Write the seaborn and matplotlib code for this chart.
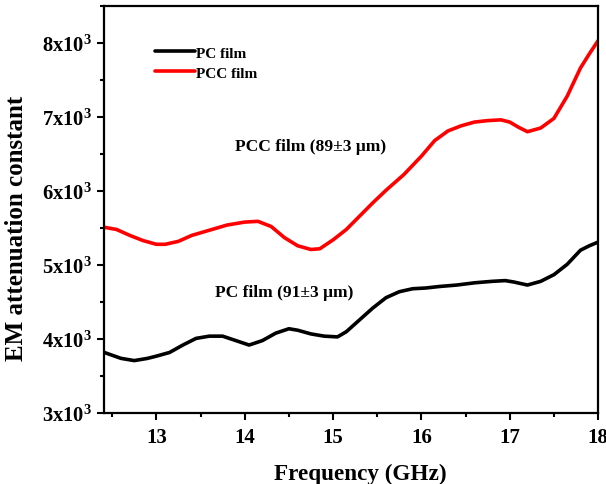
import pandas as pd
import matplotlib
matplotlib.use("Agg")
from matplotlib import pyplot as plt
from matplotlib.ticker import MultipleLocator, FuncFormatter
import seaborn as sns

# PC film (black)
pc_freq = [12.41, 12.6, 12.75, 12.9, 13.0, 13.15, 13.3, 13.45, 13.6, 13.75, 13.9,
           14.05, 14.2, 14.35, 14.5, 14.6, 14.75, 14.9, 15.05, 15.15, 15.3, 15.45,
           15.6, 15.75, 15.9, 16.05, 16.2, 16.4, 16.6, 16.8, 16.95, 17.05, 17.2,
           17.35, 17.5, 17.65, 17.8, 17.9, 18.0]
pc_vals = [3820, 3740, 3710, 3740, 3770, 3820, 3920, 4010, 4040, 4040, 3980,
           3920, 3980, 4080, 4140, 4120, 4070, 4040, 4030, 4100, 4260, 4420,
           4560, 4640, 4680, 4690, 4710, 4730, 4760, 4780, 4790, 4770, 4730,
           4780, 4870, 5010, 5200, 5260, 5310]

# PCC film (red)
pcc_freq = [12.41, 12.55, 12.7, 12.85, 13.0, 13.1, 13.25, 13.4, 13.6, 13.8, 14.0,
            14.15, 14.3, 14.45, 14.6, 14.75, 14.85, 15.0, 15.15, 15.3, 15.45, 15.6,
            15.8, 16.0, 16.15, 16.3, 16.45, 16.6, 16.75, 16.9, 17.0, 17.1, 17.2,
            17.35, 17.5, 17.65, 17.8, 17.9, 18.0]
pcc_vals = [5510, 5480, 5400, 5330, 5280, 5280, 5320, 5400, 5470, 5540, 5580,
            5590, 5520, 5370, 5260, 5210, 5220, 5340, 5480, 5660, 5840, 6010,
            6220, 6470, 6680, 6810, 6880, 6930, 6950, 6960, 6930, 6860, 6800,
            6850, 6980, 7280, 7660, 7850, 8030]

df = pd.concat([
    pd.DataFrame({"freq": pc_freq, "val": pc_vals, "film": "PC film"}),
    pd.DataFrame({"freq": pcc_freq, "val": pcc_vals, "film": "PCC film"}),
])

sns.set_style("ticks")
plt.rcParams["font.family"] = ["Liberation Serif", "DejaVu Serif"]
plt.rcParams["font.weight"] = "bold"
plt.rcParams["text.color"] = "black"
plt.rcParams["axes.labelcolor"] = "black"
plt.rcParams["mathtext.fontset"] = "custom"
plt.rcParams["mathtext.rm"] = "Liberation Serif:bold"
plt.rcParams["mathtext.bf"] = "Liberation Serif:bold"

fig = plt.figure(figsize=(6.06, 4.85), dpi=100)
ax = fig.add_axes([0.172, 0.146, 0.815, 0.840])

sns.lineplot(data=df, x="freq", y="val", hue="film",
             palette={"PC film": "black", "PCC film": "red"},
             linewidth=2.6, ax=ax, sort=False)

ax.set_xlim(12.41, 18.0)
ax.set_ylim(3000, 8500)
ax.xaxis.set_major_locator(MultipleLocator(1))
ax.xaxis.set_minor_locator(MultipleLocator(0.5))
ax.yaxis.set_major_locator(MultipleLocator(1000))
ax.yaxis.set_minor_locator(MultipleLocator(500))
ax.yaxis.set_major_formatter(FuncFormatter(lambda v, p: r"$\mathregular{%dx10^{3}}$" % round(v / 1000)))

for s in ax.spines.values():
    s.set_linewidth(1.6)
    s.set_color("black")
ax.tick_params(which="major", length=5, width=1.5, colors="black", pad=5)
ax.tick_params(axis="x", labelsize=15)
ax.tick_params(axis="y", labelsize=14.8, pad=4)
ax.tick_params(which="minor", length=3, width=1.5, colors="black")
for lab in ax.get_xticklabels() + ax.get_yticklabels():
    lab.set_fontweight("bold")

ax.set_xlabel("Frequency (GHz)", fontsize=16.7, fontweight="bold")
ax.xaxis.set_label_coords(0.518, -0.122)
ax.set_ylabel("EM attenuation constant", fontsize=18, fontweight="bold")
ax.yaxis.set_label_coords(-0.154, 0.457)

ax.text(14.74, 6610, "PCC film (89±3 μm)", fontsize=12.5, fontweight="bold",
        ha="center", va="center")
ax.text(14.45, 4635, "PC film (91±3 μm)", fontsize=12.5, fontweight="bold",
        ha="center", va="center")

ax.legend(loc="upper left", bbox_to_anchor=(0.075, 0.935), frameon=False,
          handlelength=2.6, handletextpad=0.1, labelspacing=0.4,
          prop={"size": 11, "weight": "bold"}, title=None)

fig.savefig("out.png", dpi=100)
